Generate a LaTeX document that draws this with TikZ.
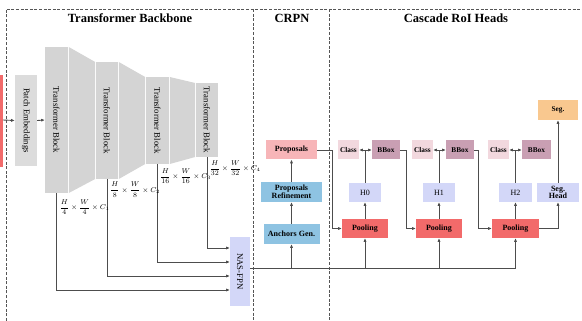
\documentclass[tikz,border=0pt]{standalone}
\usepackage{amsmath}
\usepackage{fontspec}
\setmainfont{Liberation Serif}
\usetikzlibrary{arrows.meta}
\definecolor{blk}{HTML}{D4D4D4}
\definecolor{patch}{HTML}{DCDCDC}
\definecolor{lav}{HTML}{D3D7F8}
\definecolor{prop}{HTML}{F7B5B8}
\definecolor{skyb}{HTML}{8EC3E2}
\definecolor{pool}{HTML}{F26A6A}
\definecolor{clsc}{HTML}{F2D8DE}
\definecolor{bbc}{HTML}{C99FB3}
\definecolor{segc}{HTML}{F9C88F}
\definecolor{redl}{HTML}{F26B6B}
\definecolor{ln}{HTML}{4D4D4D}
\definecolor{frm}{HTML}{555555}
\begin{document}
\begin{tikzpicture}[x=1pt,y=-1pt,
  box/.style={draw=none, inner sep=0pt, align=center, font=\fontsize{8}{8.5}\selectfont\bfseries},
  tbk/.style={fill=blk, inner sep=0pt, rotate=-90, font=\fontsize{8.7}{9}\selectfont},
  line/.style={draw=ln, line width=0.9pt},
  arr/.style={line, -{Latex[length=3.6pt,width=3.2pt]}},
  frame/.style={draw=frm, line width=0.8pt, dash pattern=on 3pt off 1.6pt},
  ttl/.style={font=\fontsize{12.5}{13}\selectfont\bfseries, inner sep=0pt},
  dim/.style={font=\fontsize{6.9}{8}\selectfont, inner sep=0pt, anchor=north west}
]
\useasboundingbox (0,0) rectangle (582,321);

% frame
\draw[frame] (6,321) -- (6,9) -- (582,9);
\draw[frame] (253,9) -- (253,321);
\draw[frame] (329,9) -- (329,321);

% titles
\node[ttl] (t1) at (130,18.5) {Transformer Backbone};
\node[ttl] (t2) at (292,18.5) {CRPN};
\node[ttl] (t3) at (456,18.5) {Cascade RoI Heads};

% input (cut off)
\fill[redl] (0,75) rectangle (3,167);
\coordinate (inp) at (3,120);

% patch embeddings
\node[fill=patch, inner sep=0pt, rotate=-90, minimum width=91pt, minimum height=22pt, font=\fontsize{8.7}{9}\selectfont] (pe) at (26,120.5) {Patch Embeddings};

% transformer blocks
\node[tbk, minimum width=146pt, minimum height=23pt] (tb1) at (56.5,120) {Transformer Block};
\node[tbk, minimum width=117pt, minimum height=22pt] (tb2) at (107,120.5) {Transformer Block};
\node[tbk, minimum width=87pt, minimum height=23pt] (tb3) at (157.5,120.5) {Transformer Block};
\node[tbk, minimum width=74pt, minimum height=22pt] (tb4) at (207,120) {Transformer Block};
\fill[blk] (68.8,47) -- (95.2,62) -- (95.2,179) -- (68.8,193) -- cycle;
\fill[blk] (118.8,62) -- (145.2,77) -- (145.2,164) -- (118.8,179) -- cycle;
\fill[blk] (169.8,77) -- (195.2,83) -- (195.2,157) -- (169.8,164) -- cycle;

\draw[arr] (inp) -- (pe.south);
\draw[arr] (pe.north) -- (tb1.south);

% NAS-FPN
\node[fill=lav, inner sep=0pt, rotate=-90, minimum width=69pt, minimum height=20pt, font=\fontsize{8.7}{9}\selectfont] (nas) at (240,271.5) {NAS-FPN};

\coordinate (l1) at (56.5,290);
\coordinate (l2) at (107,276);
\coordinate (l3) at (157.5,262);
\coordinate (l4) at (207,248);
\draw[arr] (tb1.east) -- (l1) -- (l1 -| nas.south);
\draw[arr] (tb2.east) -- (l2) -- (l2 -| nas.south);
\draw[arr] (tb3.east) -- (l3) -- (l3 -| nas.south);
\draw[arr] (tb4.east) -- (l4) -- (l4 -| nas.south);

\node[dim] (d1) at (59.5,199.5) {$\dfrac{H}{4}\times\dfrac{W}{4}\times C_1$};
\node[dim] (d2) at (110,182) {$\dfrac{H}{8}\times\dfrac{W}{8}\times C_2$};
\node[dim] (d3) at (160,168.5) {$\dfrac{H}{16}\times\dfrac{W}{16}\times C_3$};
\node[dim] (d4) at (209.5,160.5) {$\dfrac{H}{32}\times\dfrac{W}{32}\times C_4$};

% CRPN
\node[box, fill=prop, minimum width=51pt, minimum height=19pt] (prp) at (291.5,150) {Proposals};
\node[box, fill=skyb, minimum width=61pt, minimum height=20pt, font=\fontsize{8}{7.5}\selectfont\bfseries] (ref) at (291.5,192) {Proposals\\Refinement};
\node[box, fill=skyb, minimum width=56pt, minimum height=20pt] (anc) at (291.5,234) {Anchors Gen.};
\draw[arr] (anc.north) -- (ref.south);
\draw[arr] (ref.north) -- (prp.south);

% Cascade heads
\node[box, fill=pool, minimum width=46pt, minimum height=19pt] (p1) at (365,228.5) {Pooling};
\node[box, fill=pool, minimum width=46pt, minimum height=19pt] (p2) at (439,228.5) {Pooling};
\node[box, fill=pool, minimum width=47pt, minimum height=19pt] (p3) at (515.5,228.5) {Pooling};
\node[box, fill=lav, minimum width=32pt, minimum height=19pt, font=\fontsize{8}{8.5}\selectfont] (h0) at (365,192.5) {H0};
\node[box, fill=lav, minimum width=32pt, minimum height=19pt, font=\fontsize{8}{8.5}\selectfont] (h1) at (439,192.5) {H1};
\node[box, fill=lav, minimum width=33pt, minimum height=19pt, font=\fontsize{8}{8.5}\selectfont] (h2) at (515.5,192.5) {H2};
\node[box, fill=clsc, minimum width=21pt, minimum height=19pt, font=\fontsize{7.3}{8}\selectfont\bfseries] (c1) at (348.5,150) {Class};
\node[box, fill=clsc, minimum width=21pt, minimum height=19pt, font=\fontsize{7.3}{8}\selectfont\bfseries] (c2) at (422.5,150) {Class};
\node[box, fill=clsc, minimum width=21pt, minimum height=19pt, font=\fontsize{7.3}{8}\selectfont\bfseries] (c3) at (498.5,150) {Class};
\node[box, fill=bbc, minimum width=28pt, minimum height=19pt, font=\fontsize{7.3}{8}\selectfont\bfseries] (b1) at (386,150) {BBox};
\node[box, fill=bbc, minimum width=28pt, minimum height=19pt, font=\fontsize{7.3}{8}\selectfont\bfseries] (b2) at (460,150) {BBox};
\node[box, fill=bbc, minimum width=29pt, minimum height=19pt, font=\fontsize{7.3}{8}\selectfont\bfseries] (b3) at (536.5,150) {BBox};
\node[box, fill=lav, minimum width=42pt, minimum height=19pt, font=\fontsize{8}{7.5}\selectfont\bfseries] (sh) at (558,192.5) {Seg.\\Head};
\node[box, fill=segc, minimum width=40pt, minimum height=20pt, font=\fontsize{7.3}{8}\selectfont\bfseries] (sg) at (558,110) {Seg.};

% bus from NAS-FPN
\coordinate (bus) at (0,268);
\draw[line] (nas.north |- bus) -- (p3.south |- bus);
\draw[arr] (anc.south |- bus) -- (anc.south);
\draw[arr] (p1.south |- bus) -- (p1.south);
\draw[arr] (p2.south |- bus) -- (p2.south);
\draw[arr] (p3.south |- bus) -- (p3.south);

% pooling -> heads
\draw[arr] (p1.north) -- (h0.south);
\draw[arr] (p2.north) -- (h1.south);
\draw[arr] (p3.north) -- (h2.south);
\coordinate (j1) at (365,150);
\coordinate (j2) at (439,150);
\coordinate (j3) at (515.5,150);
\draw[line] (h0.north) -- (j1);
\draw[line] (h1.north) -- (j2);
\draw[line] (h2.north) -- (j3);
\draw[arr] (j1) -- (c1.east);
\draw[arr] (j1) -- (b1.west);
\draw[arr] (j2) -- (c2.east);
\draw[arr] (j2) -- (b2.west);
\draw[arr] (j3) -- (c3.east);
\draw[arr] (j3) -- (b3.west);

% stage links
\coordinate (k0) at (332,150);
\coordinate (k1) at (406,150);
\coordinate (k2) at (478.5,150);
\draw[arr] (prp.east) -- (k0) -- (k0 |- p1.west) -- (p1.west);
\draw[arr] (b1.east) -- (k1) -- (k1 |- p2.west) -- (p2.west);
\draw[arr] (b2.east) -- (k2) -- (k2 |- p3.west) -- (p3.west);

% seg branch
\draw[arr] (p3.east) -- (p3.east -| sh.south) -- (sh.south);
\draw[arr] (sh.north) -- (sg.south);
\end{tikzpicture}
\end{document}
